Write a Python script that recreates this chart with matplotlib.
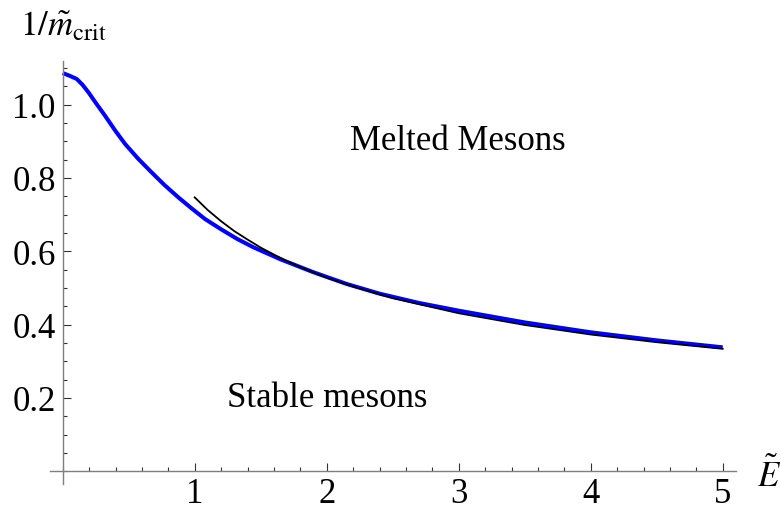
import matplotlib
matplotlib.use("Agg")
import matplotlib.pyplot as plt
from matplotlib.ticker import MultipleLocator, FixedLocator

plt.rcParams.update({
    'font.family': 'Liberation Serif',
    'mathtext.fontset': 'stix',
})

# critical line (blue), E-tilde vs 1/m_crit
e_crit = [0.0, 0.05, 0.106, 0.15, 0.194, 0.25, 0.32, 0.40, 0.472, 0.57, 0.674, 0.77, 0.876, 0.98,
          1.078, 1.2, 1.32, 1.444, 1.65, 1.898, 2.15, 2.404, 2.7, 3.0, 3.5, 4.0, 4.5, 5.0]
inv_m_crit = [1.086, 1.079, 1.070, 1.054, 1.034, 1.005, 0.970, 0.928, 0.893, 0.853, 0.815, 0.781,
              0.747, 0.716, 0.688, 0.660, 0.634, 0.611, 0.578, 0.543, 0.511, 0.484, 0.459, 0.438,
              0.406, 0.379, 0.357, 0.338]

# large-E asymptote (black)
e_asym = [1.0, 1.1, 1.2, 1.3, 1.4, 1.5, 1.6, 1.7, 1.8, 2.0, 2.2, 2.5, 3.0, 3.5, 4.0, 4.5, 5.0]
inv_m_asym = [0.747, 0.712, 0.682, 0.655, 0.632, 0.610, 0.591, 0.573, 0.557, 0.528, 0.504, 0.472,
              0.431, 0.399, 0.373, 0.352, 0.334]

x_ticks = [1, 2, 3, 4, 5]
y_ticks = [0.2, 0.4, 0.6, 0.8, 1.0]

W, H = 781, 506
fig = plt.figure(figsize=(W / 100, H / 100), dpi=100)
ax = fig.add_axes([49.5 / W, 1 - 485.1 / H, (735.9 - 49.5) / W, (485.1 - 61.6) / H])
ax.set_xlim(-0.1, 5.1)
ax.set_ylim(-0.035, 1.12)

ax.plot(e_crit, inv_m_crit, color=(0, 0, 1), lw=2.9, solid_capstyle='butt', zorder=2)
ax.plot(e_asym, inv_m_asym, color='black', lw=1.3, zorder=3)

for side in ['top', 'right']:
    ax.spines[side].set_visible(False)
ax.spines['left'].set_position(('data', 0))
ax.spines['bottom'].set_position(('data', 0))
for side in ['left', 'bottom']:
    ax.spines[side].set_color('#7f7f7f')
    ax.spines[side].set_linewidth(1.0)

ax.xaxis.set_major_locator(FixedLocator(x_ticks))
ax.yaxis.set_major_locator(FixedLocator(y_ticks))
ax.xaxis.set_minor_locator(MultipleLocator(0.2))
ax.yaxis.set_minor_locator(MultipleLocator(0.05))
ax.set_xticklabels([str(v) for v in x_ticks])
ax.set_yticklabels([f"{v:.1f}" for v in y_ticks])
ax.tick_params(which='both', direction='in', color='#333333', width=0.8, labelsize=25)
ax.tick_params(which='major', length=6)
ax.tick_params(which='minor', length=3)
ax.tick_params(axis='y', which='major', pad=5)
ax.tick_params(axis='x', which='major', pad=4)

ax.text(2.995, 0.879, 'Melted Mesons', fontsize=25, ha='center', va='baseline')
ax.text(2.0, 0.179, 'Stable mesons', fontsize=25, ha='center', va='baseline')

fig.text(20 / W, 1 - 36.7 / H, r'$1/\tilde{m}_{\mathrm{crit}}$', fontsize=25, ha='left', va='baseline')
fig.text(769 / W, 1 - 486.7 / H, r'$\tilde{E}$', fontsize=25, ha='center', va='baseline')

fig.savefig('out.png', dpi=100)
